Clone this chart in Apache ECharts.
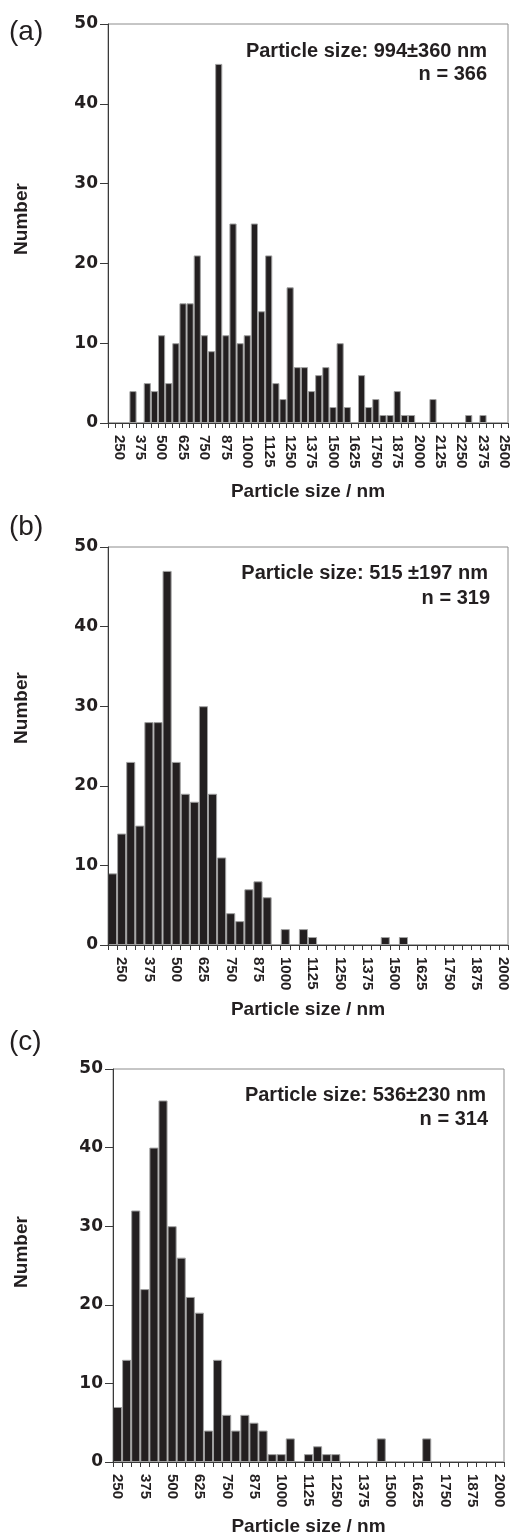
<!DOCTYPE html>
<html>
<head>
<meta charset="utf-8">
<script src="https://cdn.jsdelivr.net/npm/echarts@6/dist/echarts.min.js"></script>
<style>
    html, body { margin: 0; padding: 0; background: #fff; }
    #main { width: 513px; height: 1538px; }
</style>
</head>
<body>
<div id="main"></div>
<script>
// counts per bin (bin width 125/3 nm)
var countsA = [0,0,0,4,0,5,4,11,5,10,15,15,21,11,9,45,11,25,10,11,25,14,21,5,3,17,7,7,4,6,7,2,10,2,0,6,2,3,1,1,4,1,1,0,0,3,0,0,0,0,1,0,1,0,0,0];
var countsB = [9,14,23,15,28,28,47,23,19,18,30,19,11,4,3,7,8,6,0,2,0,2,1,0,0,0,0,0,0,0,1,0,1,0,0,0,0,0,0,0,0,0,0,0];
var countsC = [7,13,32,22,40,46,30,26,21,19,4,13,6,4,6,5,4,1,1,3,0,1,2,1,1,0,0,0,0,3,0,0,0,0,3,0,0,0,0,0,0,0,0];

// x tick labels (every third bin) and the bin that carries the first one
var ticksA = ['250','375','500','625','750','875','1000','1125','1250','1375','1500','1625','1750','1875','2000','2125','2250','2375','2500'];
var ticksBC = ['250','375','500','625','750','875','1000','1125','1250','1375','1500','1625','1750','1875','2000'];
var firstTickBin = [1, 1, 0];

var yMax = 50, yStep = 10;
var panelNames = ['(a)', '(b)', '(c)'];
var statLines = [
    ['Particle size: 994±360 nm', 'n = 366'],
    ['Particle size: 515 ±197 nm', 'n = 319'],
    ['Particle size: 536±230 nm', 'n = 314']
];

var ink = '#231f20';
var font = '"Liberation Sans", Arial, Helvetica, sans-serif';
var tickFont = '"DejaVu Sans", "Liberation Sans", sans-serif';

var grids = [
    {left: 108, top: 24, width: 400, height: 399},
    {left: 108, top: 547, width: 400, height: 398},
    {left: 113, top: 1069, width: 391, height: 393}
];
var counts = [countsA, countsB, countsC];
var ticks = [ticksA, ticksBC, ticksBC];

var chart = echarts.init(document.getElementById('main'));

var xAxes = [], yAxes = [], series = [], graphics = [];
counts.forEach(function (data, p) {
    var first = firstTickBin[p];
    var labels = ticks[p];
    xAxes.push({
        gridIndex: p,
        type: 'category',
        data: data.map(function (v, i) { return String(i); }),
        boundaryGap: true,
        z: 3,
        axisLine: {show: true, lineStyle: {color: '#3a3a3a', width: 1}},
        axisTick: {show: true, interval: 0, length: 5, lineStyle: {color: '#3a3a3a'}},
        axisLabel: {
            interval: function (i) { return i >= first && (i - first) % 3 === 0; },
            formatter: function (v, i) { return labels[(i - first) / 3] || ''; },
            rotate: -90,
            margin: 12,
            color: ink,
            fontSize: 15,
            fontWeight: 'bold',
            fontFamily: font
        },
        splitLine: {show: false}
    });
    yAxes.push({
        gridIndex: p,
        type: 'value',
        min: 0,
        max: yMax,
        interval: yStep,
        z: 3,
        axisLine: {show: true, lineStyle: {color: '#3a3a3a', width: 1}},
        axisTick: {show: true, length: 8, lineStyle: {color: '#3a3a3a'}},
        axisLabel: {margin: 10, color: ink, fontSize: 17, fontWeight: 'bold', fontFamily: tickFont,
            padding: [6, 0, 0, 0]},
        splitLine: {show: false}
    });
    series.push({
        type: 'bar',
        xAxisIndex: p,
        yAxisIndex: p,
        barCategoryGap: '0%',
        barGap: 0,
        itemStyle: {color: ink, borderColor: '#a0a0a0', borderWidth: 1},
        data: data
    });
});

// panel letters, axis titles and the stats block
var letterY = [32, 527, 1042];
var numberY = [219, 708, 1252];
var titleY = [492, 1010, 1527];
var statY = [[51, 74.5], [573.7, 598], [1095.5, 1119]];
var statX = [[487, 487], [488, 490], [486, 488]];
for (var p = 0; p < 3; p++) {
    graphics.push({
        type: 'text', x: 9, y: letterY[p],
        style: {text: panelNames[p], font: '28px ' + font, fill: ink, align: 'left', verticalAlign: 'middle'}
    });
    graphics.push({
        type: 'text', x: 22, y: numberY[p], rotation: Math.PI / 2,
        style: {text: 'Number', font: 'bold 19px ' + font, fill: ink, align: 'center', verticalAlign: 'middle'}
    });
    graphics.push({
        type: 'text', x: grids[p].left + grids[p].width / 2, y: titleY[p],
        style: {text: 'Particle size / nm', font: 'bold 19px ' + font, fill: ink, align: 'center', verticalAlign: 'middle'}
    });
    for (var k = 0; k < 2; k++) {
        graphics.push({
            type: 'text', x: statX[p][k], y: statY[p][k],
            style: {text: statLines[p][k], font: 'bold 20px ' + font, fill: ink, align: 'right', verticalAlign: 'middle'}
        });
    }
}

var option = {
    animation: false,
    backgroundColor: '#fff',
    grid: grids.map(function (g) {
        return {left: g.left, top: g.top, width: g.width, height: g.height,
            show: true, borderColor: '#8c8c8c', borderWidth: 1, backgroundColor: 'transparent'};
    }),
    xAxis: xAxes,
    yAxis: yAxes,
    series: series,
    graphic: graphics
};
chart.setOption(option);
</script>
</body>
</html>
